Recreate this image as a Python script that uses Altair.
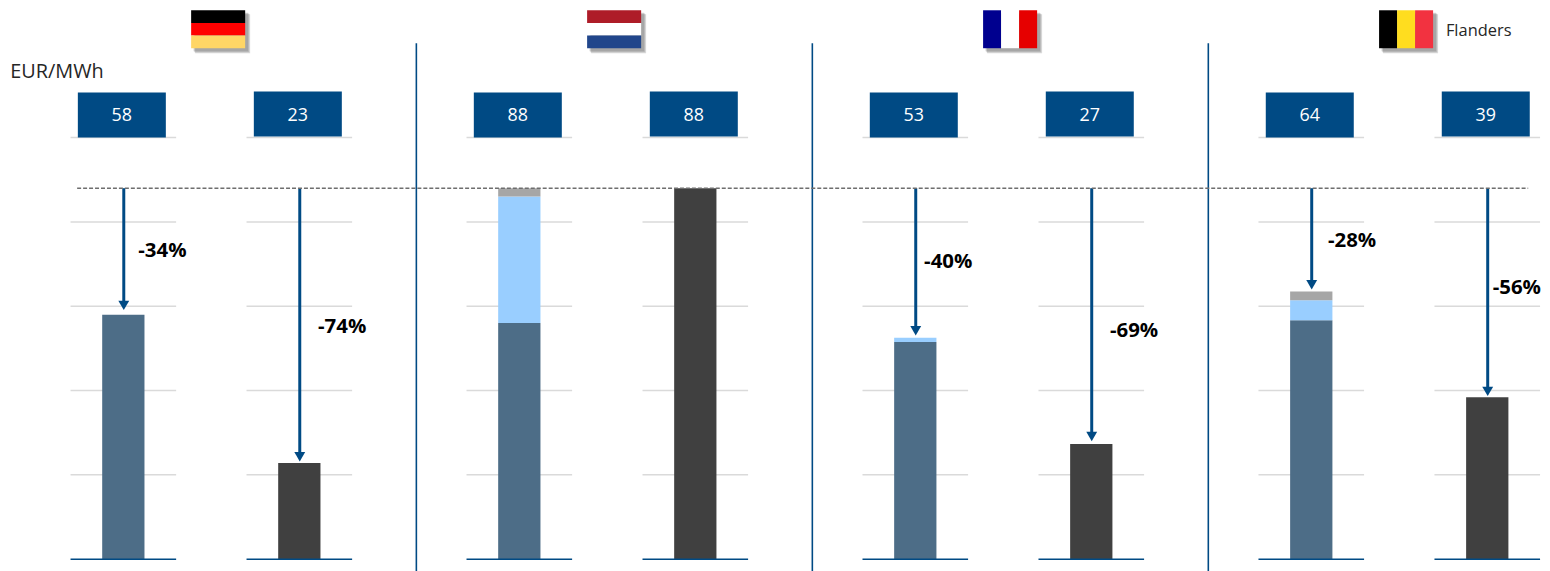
import altair as alt
import pandas as pd

# ---------- values ----------
countries = ["Germany", "Netherlands", "France", "Flanders"]
box_first = [58, 88, 53, 64]
box_second = [23, 88, 27, 39]
first_base = [58.0, 56.0, 51.5, 56.7]
first_light = [0.0, 30.0, 1.0, 4.7]
first_grey = [0.0, 2.0, 0.0, 2.1]
second_dark = [22.8, 88.0, 27.3, 38.4]
arrow_first = [59.1, None, 53.1, 64.0]
arrow_second = [23.2, None, 28.0, 38.7]
pct_first = ["-34%", None, "-40%", "-28%"]
pct_second = ["-74%", None, "-69%", "-56%"]
label_level_first = [73.0, None, 70.5, 75.5]
label_level_second = [55.0, None, 54.0, 64.2]
label_shift_first = [0.34, None, 0.2, 0.38]
label_shift_second = [0.425, None, 0.425, 0.125]
flag_colors = {
    "Germany": ["#000000", "#FF0000", "#FFD666"],
    "Netherlands": ["#AE1C28", "#FFFFFF", "#21468B"],
    "France": ["#00008F", "#FFFFFF", "#E60000"],
    "Flanders": ["#000000", "#FFDD1F", "#F23240"],
}
flag_vertical = {"Germany": False, "Netherlands": False, "France": True, "Flanders": True}
gridlevels = [20, 40, 60, 80, 100]
reference_level = 88

NAVY = "#004A84"
FONT = "Open Sans"
W, H = 1542, 563
K = 1558 / 1550  # the page (8 + W + 8) is brought back to 1550 wide in the photograph
STEP = 44.0 * K
X0 = 123.3 * K
BASE_Y = 557.7 * K
PX_PER_UNIT = 4.216 * K

x_scale = alt.Scale(domain=[(8 - X0) / STEP, (8 + W - X0) / STEP], nice=False, zero=False, padding=0)
y_scale = alt.Scale(domain=[(BASE_Y - 8 - H) / PX_PER_UNIT, (BASE_Y - 8) / PX_PER_UNIT], nice=False, zero=False, padding=0)
X = alt.X("x:Q", scale=x_scale, axis=None)
Y = alt.Y("y:Q", scale=y_scale, axis=None)

def slot(group, sub):
    return 9 * group + 4 * sub

segments, boxes, arrows, labels, grid = [], [], [], [], []
for g, name in enumerate(countries):
    for sub in (0, 1):
        u = slot(g, sub)
        grid.extend({"x": u - 1.2, "x2": u + 1.2, "y": lv} for lv in gridlevels)
        grid.append({"x": u - 1.2, "x2": u + 1.2, "y": 0})
    cum = 0.0
    for part, v in zip(["base", "light", "grey"], [first_base[g], first_light[g], first_grey[g]]):
        if v > 0:
            segments.append({"x": slot(g, 0), "y": cum, "y2": cum + v, "part": part})
            cum += v
    segments.append({"x": slot(g, 1), "y": 0, "y2": second_dark[g], "part": "dark"})
    for sub, val, tip, pct, lv, sh, lift in [
        (0, box_first[g], arrow_first[g], pct_first[g], label_level_first[g], label_shift_first[g], 0.0),
        (1, box_second[g], arrow_second[g], pct_second[g], label_level_second[g], label_shift_second[g], 0.24),
    ]:
        u = slot(g, sub)
        boxes.append({"x": u - 1.034, "x2": u + 0.966, "y": 100 + lift, "y2": 110.67 + lift,
                      "tx": u - 0.034, "ty": 105.1, "t": str(val)})
        if tip is not None:
            arrows.append({"x": u + 0.01, "y": reference_level, "y2": tip + 2, "tip": tip + 1.1})
            labels.append({"x": u + sh, "y": lv, "t": pct})

flags, shadows = [], []
FLAG_TOP, FLAG_BOTTOM, FLAG_HALF = 130.2, 121.2, 0.614
for g, name in enumerate(countries):
    c = slot(g, 0) + 2.155
    x0, x1 = c - FLAG_HALF, c + FLAG_HALF
    for i, col in enumerate(flag_colors[name]):
        if flag_vertical[name]:
            a, b = x0 + (x1 - x0) * i / 3, x0 + (x1 - x0) * (i + 1) / 3
            flags.append({"x": a, "x2": b, "y": FLAG_TOP, "y2": FLAG_BOTTOM, "c": col})
        else:
            a = FLAG_TOP + (FLAG_BOTTOM - FLAG_TOP) * i / 3
            b = FLAG_TOP + (FLAG_BOTTOM - FLAG_TOP) * (i + 1) / 3
            flags.append({"x": x0, "x2": x1, "y": a, "y2": b, "c": col})
    for off in (5.0, 4.0, 3.0):
        du, dv = off / STEP, off / PX_PER_UNIT
        shadows.append({"x": x0 + du * 0.8, "x2": x1 + du, "y": FLAG_TOP - dv * 0.8, "y2": FLAG_BOTTOM - dv})

dividers = [{"x": 9 * g - 2.34, "y": 122.4, "y2": -2.9} for g in (1, 2, 3)]
reference = [{"x": -1.05, "x2": 31.93, "y": reference_level}]

def D(rows):
    return alt.Data(values=rows)

X2 = alt.X2("x2:Q")
Y2 = alt.Y2("y2:Q")

grid_rows = [r for r in grid if r["y"] != 0]
base_rows = [r for r in grid if r["y"] == 0]

layers = [
    alt.Chart(D(grid_rows)).mark_rule(color="#DADADA", strokeWidth=1.5).encode(x=X, x2=X2, y=Y),
    alt.Chart(D(segments)).mark_bar(size=42.5).encode(
        x=X, y=Y, y2=Y2,
        color=alt.Color("part:N", legend=None, scale=alt.Scale(
            domain=["base", "light", "grey", "dark"],
            range=["#4D6D87", "#99CEFF", "#A6A6A6", "#404040"])),
    ),
    alt.Chart(D(base_rows)).mark_rule(color=NAVY, strokeWidth=1.6).encode(x=X, x2=X2, y=Y),
    alt.Chart(D(shadows)).mark_rect(color="#555555", opacity=0.22).encode(x=X, x2=X2, y=Y, y2=Y2),
    alt.Chart(D(flags)).mark_rect().encode(
        x=X, x2=X2, y=Y, y2=Y2, color=alt.Color("c:N", scale=None)),
    alt.Chart(D(boxes)).mark_rect(color=NAVY).encode(x=X, x2=X2, y=Y, y2=Y2),
    alt.Chart(D(boxes)).mark_text(color="#FFFFFF", font=FONT, fontSize=18, align="center", baseline="middle").encode(
        x=alt.X("tx:Q", scale=x_scale, axis=None), y=alt.Y("ty:Q", scale=y_scale, axis=None), text="t:N"),
    alt.Chart(D(dividers)).mark_rule(color=NAVY, strokeWidth=1.6).encode(x=X, y=Y, y2=Y2),
    alt.Chart(D(arrows)).mark_rule(color=NAVY, strokeWidth=3).encode(x=X, y=Y, y2=Y2),
    alt.Chart(D(arrows)).mark_point(shape="triangle-down", filled=True, opacity=1, color=NAVY, size=120).encode(
        x=X, y=alt.Y("tip:Q", scale=y_scale, axis=None)),
    alt.Chart(D(reference)).mark_rule(color="#6E6E6E", strokeWidth=1.4, strokeDash=[4, 2]).encode(x=X, x2=X2, y=Y),
    alt.Chart(D(labels)).mark_text(color="#000000", font=FONT, fontSize=20.5, fontWeight="bold", align="left", baseline="middle").encode(
        x=X, y=Y, text="t:N"),
    alt.Chart(D([{"x": -2.57, "y": 115.5, "t": "EUR/MWh"}])).mark_text(
        color="#262626", font=FONT, fontSize=20, align="left", baseline="middle").encode(x=X, y=Y, text="t:N"),
    alt.Chart(D([{"x": 30.06, "y": 125.3, "t": "Flanders"}])).mark_text(
        color="#262626", font=FONT, fontSize=16.5, align="left", baseline="middle").encode(x=X, y=Y, text="t:N"),
]

chart = alt.layer(*layers).properties(
    width=W, height=H, padding=0, autosize=alt.AutoSizeParams(type="none"),
    background="#FFFFFF",
).configure_view(stroke=None)

chart.save("out.html", embed_options={"renderer": "svg", "actions": False})
